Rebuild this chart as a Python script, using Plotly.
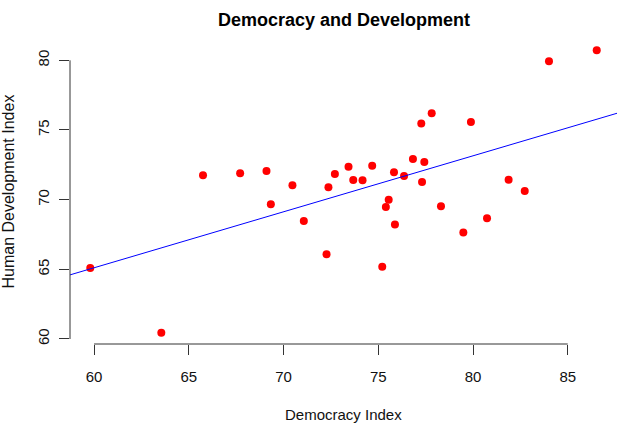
import plotly.graph_objects as go

# Data
democracy_index = [59.8, 63.55, 65.75, 67.71, 69.10, 69.33, 70.47, 71.07, 72.27, 72.37,
                   72.71, 73.43, 73.68, 74.17, 74.68, 75.21, 75.40, 75.55, 75.83, 75.88,
                   76.36, 76.83, 77.31, 77.43, 78.31, 79.49, 80.74, 81.88, 82.73, 77.27,
                   77.82, 79.89, 84.01, 86.53]
human_dev_index = [65.09, 60.45, 71.75, 71.89, 72.06, 69.67, 71.03, 68.47, 66.09, 70.89,
                   71.84, 72.36, 71.41, 71.39, 72.44, 65.18, 69.48, 70.00, 71.96, 68.21,
                   71.70, 72.92, 71.27, 72.70, 69.53, 67.64, 68.67, 71.43, 70.62, 75.47,
                   76.21, 75.57, 79.94, 80.72]

# Fitted line (at plot edges)
fit_x = [58.73, 87.60]
fit_y = [64.6, 76.2]

x_ticks = [60, 65, 70, 75, 80, 85]
y_ticks = [60, 65, 70, 75, 80]

x_range = [58.73, 87.60]
y_range = [59.64, 81.53]

FONT = "Liberation Sans, Arial, sans-serif"

fig = go.Figure()
fig.add_trace(go.Scatter(
    x=democracy_index, y=human_dev_index, mode="markers",
    marker=dict(color="#ff0000", size=8, line=dict(width=0)),
    showlegend=False, hoverinfo="x+y"))
fig.add_trace(go.Scatter(
    x=fit_x, y=fit_y, mode="lines",
    line=dict(color="#0000ff", width=1), showlegend=False))

fig.update_layout(
    width=623, height=433,
    margin=dict(l=70, r=6, t=39, b=89),
    paper_bgcolor="white", plot_bgcolor="white",
    font=dict(family=FONT, color="#000000"),
    xaxis=dict(range=x_range, tickvals=x_ticks, ticktext=[str(v) for v in x_ticks],
               showgrid=False, zeroline=False, showline=False,
               ticks="outside", ticklen=10, tickwidth=1, tickcolor="#333333",
               tickfont=dict(size=15, color="#111111"), ticklabelstandoff=9),
    yaxis=dict(range=y_range, tickvals=y_ticks, ticktext=[str(v) for v in y_ticks],
               showgrid=False, zeroline=False, showline=False,
               ticks="outside", ticklen=10, tickwidth=1, tickcolor="#333333",
               tickangle=-90,
               tickfont=dict(size=15, color="#111111"), ticklabelstandoff=4),
    shapes=[
        dict(type="line", xref="x", yref="paper", x0=x_ticks[0], x1=x_ticks[-1],
             y0=0, y1=0, line=dict(color="#333333", width=1)),
        dict(type="line", xref="paper", yref="y", x0=0, x1=0,
             y0=y_ticks[0], y1=y_ticks[-1], line=dict(color="#333333", width=1)),
    ],
    annotations=[
        dict(text="<b>Democracy and Development</b>", xref="paper", yref="paper",
             x=0.5, y=1, yshift=19, yanchor="middle", xanchor="center",
             showarrow=False, font=dict(size=18, color="#000000")),
        dict(text="Democracy Index", xref="paper", yref="paper",
             x=0.5, y=0, yshift=-70, yanchor="middle", xanchor="center",
             showarrow=False, font=dict(size=15, color="#111111")),
        dict(text="Human Development Index", xref="paper", yref="paper",
             x=0, xshift=-62, y=0.5, textangle=-90, yanchor="middle", xanchor="center",
             showarrow=False, font=dict(size=16, color="#111111")),
    ],
)

fig.write_html("out.html")
